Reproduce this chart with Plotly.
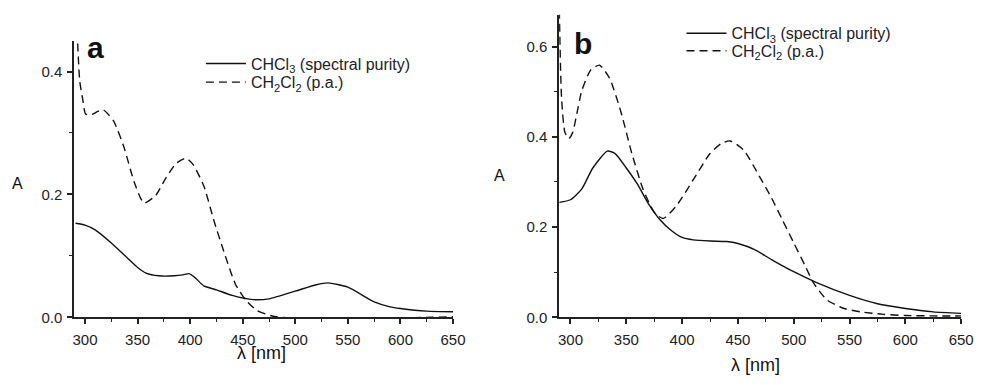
import plotly.graph_objects as go

# ---- Panel a data ----
lam_a_chcl3 = [291, 300, 310, 325, 340, 350, 358, 370, 385, 393, 399, 405, 413, 425, 440, 460, 475, 500, 520, 531, 550, 575, 590, 600, 625, 650]
abs_a_chcl3 = [0.153, 0.150, 0.142, 0.121, 0.097, 0.081, 0.072, 0.0675, 0.0675, 0.069, 0.071, 0.064, 0.051, 0.0446, 0.0356, 0.0287, 0.030, 0.0425, 0.053, 0.056, 0.049, 0.025, 0.017, 0.0143, 0.010, 0.009]

lam_a_ch2cl2 = [292.5, 295, 297.6, 300.6, 305, 312, 317, 327, 337, 347, 356, 367, 377, 387, 396, 403, 413, 423, 433, 443, 453, 463, 478, 500, 550, 600, 630, 650]
abs_a_ch2cl2 = [0.467, 0.384, 0.357, 0.331, 0.329, 0.335, 0.338, 0.320, 0.277, 0.219, 0.186, 0.198, 0.227, 0.251, 0.259, 0.248, 0.2135, 0.155, 0.102, 0.054, 0.0276, 0.0117, 0.002, -0.0015, -0.002, -0.001, 0.0, 0.001]

# ---- Panel b data ----
lam_b_chcl3 = [290, 300, 310, 320, 333, 340, 350, 360, 370, 380, 390, 400, 410, 425, 440, 450, 465, 480, 500, 520, 550, 575, 600, 625, 650]
abs_b_chcl3 = [0.2547, 0.2606, 0.284, 0.331, 0.3685, 0.363, 0.331, 0.295, 0.251, 0.217, 0.193, 0.177, 0.1715, 0.169, 0.168, 0.1636, 0.150, 0.128, 0.101, 0.0775, 0.0485, 0.030, 0.0195, 0.012, 0.0087]

lam_b_ch2cl2 = [290, 292, 295, 298.5, 302, 305, 310, 318, 326, 335, 345, 355, 365, 375, 383, 395, 410, 425, 435, 443, 455, 470, 480, 490, 500, 510, 518, 530, 545, 560, 580, 600, 625, 650]
abs_b_ch2cl2 = [0.68, 0.486, 0.41, 0.396, 0.41, 0.443, 0.501, 0.548, 0.559, 0.530, 0.457, 0.363, 0.284, 0.233, 0.219, 0.2475, 0.305, 0.363, 0.385, 0.391, 0.371, 0.309, 0.265, 0.215, 0.165, 0.115, 0.075, 0.038, 0.0195, 0.012, 0.0065, 0.004, 0.003, 0.003]

name_chcl3 = "CHCl<sub>3</sub> (spectral purity)"
name_ch2cl2 = "CH<sub>2</sub>Cl<sub>2</sub> (p.a.)"
x_ticks = [300, 350, 400, 450, 500, 550, 600, 650]
y_ticks_a = [0.0, 0.2, 0.4]
y_ticks_b = [0.0, 0.2, 0.4, 0.6]

FONT = "Liberation Sans, Arial, sans-serif"
INK = "#111111"
AXC = "#222222"
W, H = 987, 385

def px_x(p):
    return p / W

def px_y(p):
    return (H - p) / H

fig = go.Figure()
line_solid = dict(color=INK, width=1.4, shape="spline", smoothing=0.6)
line_dash = dict(color=INK, width=1.4, dash="8px,5px", shape="spline", smoothing=0.6)

fig.add_trace(go.Scatter(x=lam_a_chcl3, y=abs_a_chcl3, mode="lines", name=name_chcl3,
                         line=line_solid, xaxis="x", yaxis="y", legend="legend"))
fig.add_trace(go.Scatter(x=lam_a_ch2cl2, y=abs_a_ch2cl2, mode="lines", name=name_ch2cl2,
                         line=line_dash, xaxis="x", yaxis="y", legend="legend2"))
fig.add_trace(go.Scatter(x=lam_b_chcl3, y=abs_b_chcl3, mode="lines", name=name_chcl3,
                         line=line_solid, xaxis="x2", yaxis="y2", legend="legend3"))
fig.add_trace(go.Scatter(x=lam_b_ch2cl2, y=abs_b_ch2cl2, mode="lines", name=name_ch2cl2,
                         line=line_dash, xaxis="x2", yaxis="y2", legend="legend4"))

xcommon = dict(tickvals=x_ticks, ticks="outside", ticklen=5, tickwidth=1.6, tickcolor=AXC,
               showline=True, linecolor=AXC, linewidth=1.6, mirror=False, layer="above traces",
               showgrid=False, zeroline=False, ticklabelstandoff=3,
               minor=dict(dtick=25, tick0=300, ticks="outside", ticklen=3, tickwidth=1.2, tickcolor=AXC),
               tickfont=dict(family=FONT, size=15, color="#222"))
ycommon = dict(ticks="outside", ticklen=5, tickwidth=1.6, tickcolor=AXC,
               showline=True, linecolor=AXC, linewidth=1.6, mirror=False, layer="above traces",
               showgrid=False, zeroline=False, ticklabelstandoff=2,
               minor=dict(dtick=0.1, tick0=0, ticks="outside", ticklen=3, tickwidth=1.2, tickcolor=AXC),
               tickfont=dict(family=FONT, size=15, color="#222"))

fig.update_layout(
    width=W, height=H,
    margin=dict(l=0, r=0, t=0, b=0),
    paper_bgcolor="white", plot_bgcolor="white",
    font=dict(family=FONT, color="#222"),
    xaxis=dict(domain=[px_x(73.3), px_x(458)], range=[289.7, 650], anchor="y", **xcommon),
    yaxis=dict(domain=[px_y(324), px_y(41.7)], range=[0, 0.45], anchor="x",
               tickvals=y_ticks_a, ticktext=[f"{v:.1f}" for v in y_ticks_a], **ycommon),
    xaxis2=dict(domain=[px_x(565.7), px_x(974)], range=[289.8, 650], anchor="y2", **xcommon),
    yaxis2=dict(domain=[px_y(324), px_y(15)], range=[0, 0.671], anchor="x2",
                tickvals=y_ticks_b, ticktext=[f"{v:.1f}" for v in y_ticks_b], **ycommon),
    showlegend=True,
)

leg_font = dict(family=FONT, size=16, color="#222")
for key, xp, yp in [("legend", 202, 65), ("legend2", 202, 84),
                    ("legend3", 690, 34), ("legend4", 690, 52)]:
    fig.update_layout({key: dict(x=px_x(xp), y=px_y(yp), xanchor="left", yanchor="middle",
                                 font=leg_font, bgcolor="rgba(0,0,0,0)", borderwidth=0,
                                 itemwidth=40)})

annots = [
    dict(text="<b>a</b>", x=px_x(95), y=px_y(48), size=30),
    dict(text="<b>b</b>", x=px_x(590), y=px_y(44), size=30),
    dict(text="A", x=px_x(16), y=px_y(187), size=16),
    dict(text="A", x=px_x(505), y=px_y(179), size=16),
    dict(text="λ [nm]", x=px_x(264), y=px_y(361), size=18),
    dict(text="λ [nm]", x=px_x(765), y=px_y(373), size=18),
]
for a in annots:
    fig.add_annotation(text=a["text"], x=a["x"], y=a["y"], xref="paper", yref="paper",
                       xanchor="center", yanchor="middle", showarrow=False,
                       font=dict(family=FONT, size=a["size"], color="#111"))

fig.write_html("out.html")
